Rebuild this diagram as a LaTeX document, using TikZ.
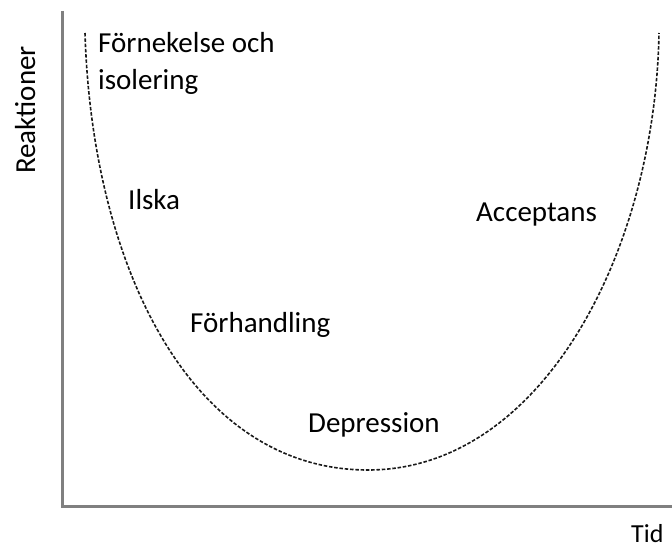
\documentclass[tikz,border=0pt]{standalone}
\usepackage{fontspec}
\setmainfont{Carlito}
\begin{document}
\begin{tikzpicture}[x=1pt,y=-1pt]
\tikzset{axe/.style={line width=3pt,draw=black!50},
  courbe/.style={line width=1.6pt,draw=black!90,dash pattern=on 3.5pt off 1.8pt},
  etiq/.style={anchor=base west,inner sep=0pt,font=\fontsize{29}{34}\selectfont}}
\useasboundingbox (0,0) rectangle (672,548);

\coordinate (haut) at (62,11);
\coordinate (orig) at (62,506);
\coordinate (droite) at (672,506);

\draw[axe] (haut) -- (orig) -- (droite);

\draw[courbe] (85,33) .. controls (92,265) and (190,470) .. (368,470)
  .. controls (540,470) and (655,255) .. (659,33);

\node[etiq] (fornek) at (98,53) {Förnekelse och};
\node[etiq] (isol) at (98,90) {isolering};
\node[etiq] (ilska) at (128,210) {Ilska};
\node[etiq] (accept) at (476,222) {Acceptans};
\node[etiq] (forhand) at (190,332) {Förhandling};
\node[etiq] (depr) at (308,432) {Depression};
\node[etiq,font=\fontsize{26}{30}\selectfont] (tid) at (631,542) {Tid};
\node[etiq,anchor=base,rotate=90] (reakt) at (35,110) {Reaktioner};
\end{tikzpicture}
\end{document}
